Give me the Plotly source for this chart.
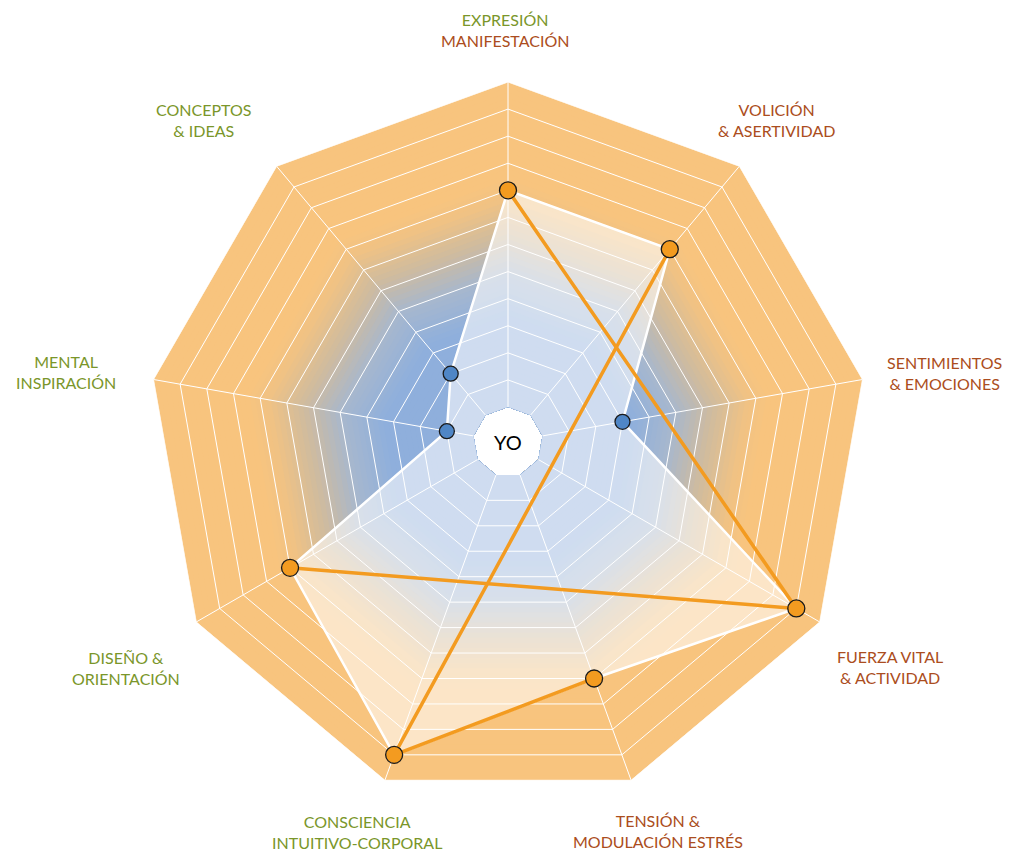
import plotly.graph_objects as go

# ---------------- data ----------------
categories = [
    "EXPRESIÓN MANIFESTACIÓN",
    "VOLICIÓN & ASERTIVIDAD",
    "SENTIMIENTOS & EMOCIONES",
    "FUERZA VITAL & ACTIVIDAD",
    "TENSIÓN & MODULACIÓN ESTRÉS",
    "CONSCIENCIA INTUITIVO-CORPORAL",
    "DISEÑO & ORIENTACIÓN",
    "MENTAL INSPIRACIÓN",
    "CONCEPTOS & IDEAS",
]
label_line1 = ["EXPRESIÓN", "VOLICIÓN", "SENTIMIENTOS", "FUERZA VITAL", "TENSIÓN &",
               "CONSCIENCIA", "DISEÑO &", "MENTAL", "CONCEPTOS"]
label_line2 = ["MANIFESTACIÓN", "& ASERTIVIDAD", "& EMOCIONES", "& ACTIVIDAD",
               "MODULACIÓN ESTRÉS", "INTUITIVO-CORPORAL", "ORIENTACIÓN", "INSPIRACIÓN", "& IDEAS"]
GREEN, BROWN = "#7a962a", "#ab4d20"
line1_colors = [GREEN, BROWN, BROWN, BROWN, BROWN, GREEN, GREEN, GREEN, GREEN]
line2_colors = [BROWN, BROWN, BROWN, BROWN, BROWN, GREEN, GREEN, GREEN, GREEN]

values = [8, 8, 3, 11, 8, 11, 8, 1, 2]
orange_points = ["EXPRESIÓN MANIFESTACIÓN", "VOLICIÓN & ASERTIVIDAD", "FUERZA VITAL & ACTIVIDAD",
                 "TENSIÓN & MODULACIÓN ESTRÉS", "CONSCIENCIA INTUITIVO-CORPORAL", "DISEÑO & ORIENTACIÓN"]
blue_points = ["SENTIMIENTOS & EMOCIONES", "MENTAL INSPIRACIÓN", "CONCEPTOS & IDEAS"]
path_a = ["EXPRESIÓN MANIFESTACIÓN", "FUERZA VITAL & ACTIVIDAD", "DISEÑO & ORIENTACIÓN"]
path_b = ["VOLICIÓN & ASERTIVIDAD", "CONSCIENCIA INTUITIVO-CORPORAL", "TENSIÓN & MODULACIÓN ESTRÉS"]
r_max = 12
rings = list(range(1, r_max + 1))

# label positions (pixels in a 1009x852 page)
label_px = [(505, 30), (776, 120), (944, 373), (890, 667), (658, 831),
            (357, 832), (126, 668), (66, 372), (203, 120)]

W, H = 1009, 852
val = dict(zip(categories, values))

# ---------------- background gradient ----------------
stops = [(0.0, (143, 175, 220)), (3.5, (143, 175, 220)), (5.0, (166, 183, 206)),
         (6.5, (208, 187, 158)), (7.8, (240, 194, 132)), (8.6, (248, 196, 126)), (12.0, (248, 196, 126))]


def grad_color(r):
    for (r0, c0), (r1, c1) in zip(stops[:-1], stops[1:]):
        if r0 <= r <= r1:
            t = (r - r0) / (r1 - r0) if r1 > r0 else 0
            c = [round(a + (b - a) * t) for a, b in zip(c0, c1)]
            return "rgb(%d,%d,%d)" % tuple(c)
    return "rgb(%d,%d,%d)" % stops[-1][1]


fig = go.Figure()
closed = categories + [categories[0]]
steps = [r_max - 0.2 * i for i in range(int(r_max / 0.2))]
for rr in steps:
    fig.add_trace(go.Scatterpolar(
        r=[rr] * len(closed), theta=closed, mode="lines",
        line=dict(width=0, color=grad_color(rr)), fill="toself",
        fillcolor=grad_color(rr), hoverinfo="skip", showlegend=False))

# ---------------- grid (rings + spokes) ----------------
for rr in rings:
    fig.add_trace(go.Scatterpolar(
        r=[rr] * len(closed), theta=closed, mode="lines",
        line=dict(width=1, color="white"), hoverinfo="skip", showlegend=False))
for c in categories:
    fig.add_trace(go.Scatterpolar(
        r=[0, r_max], theta=[c, c], mode="lines",
        line=dict(width=1, color="white"), hoverinfo="skip", showlegend=False))

# ---------------- data polygon ----------------
fig.add_trace(go.Scatterpolar(
    r=values + [values[0]], theta=closed, mode="lines",
    line=dict(width=2.5, color="white"), fill="toself",
    fillcolor="rgba(255,255,255,0.57)", showlegend=False))

for path in (path_a, path_b):
    fig.add_trace(go.Scatterpolar(
        r=[val[c] for c in path], theta=path, mode="lines",
        line=dict(width=3.5, color="#f39b20"), showlegend=False))

fig.add_trace(go.Scatterpolar(
    r=[val[c] for c in orange_points], theta=orange_points, mode="markers",
    marker=dict(size=17, color="#f39b20", line=dict(width=1.3, color="#1a1a1a")), showlegend=False))
fig.add_trace(go.Scatterpolar(
    r=[val[c] for c in blue_points], theta=blue_points, mode="markers",
    marker=dict(size=15, color="#4f86c6", line=dict(width=1.3, color="#1a1a1a")), showlegend=False))

# ---------------- labels ----------------
annotations = []
for i in range(len(categories)):
    px, py = label_px[i]
    txt = ("<span style='color:%s'>%s</span><br><span style='color:%s'>%s</span>"
           % (line1_colors[i], label_line1[i], line2_colors[i], label_line2[i]))
    annotations.append(dict(x=px / W, y=1 - py / H, xref="paper", yref="paper",
                            text=txt, showarrow=False, xanchor="center", yanchor="middle",
                            align="center", font=dict(size=16, family="Lato")))
annotations.append(dict(x=508 / W, y=1 - 442 / H, xref="paper", yref="paper", text="YO",
                        showarrow=False, xanchor="center", yanchor="middle",
                        font=dict(size=20, family="Lato", color="black")))

cx, cy, R = 508, 442, 360
fig.update_layout(
    width=W, height=H,
    margin=dict(l=0, r=0, t=0, b=0),
    paper_bgcolor="white", plot_bgcolor="white",
    showlegend=False,
    annotations=annotations,
    polar=dict(
        domain=dict(x=[(cx - R) / W, (cx + R) / W], y=[1 - (cy + R) / H, 1 - (cy - R) / H]),
        gridshape="linear",
        hole=35 / 360,
        bgcolor="rgba(0,0,0,0)",
        radialaxis=dict(range=[0, r_max], showgrid=False, showline=False,
                        showticklabels=False, ticks=""),
        angularaxis=dict(type="category", categoryarray=categories, rotation=90,
                         direction="clockwise", showgrid=False, showline=False,
                         showticklabels=False, ticks=""),
    ),
)

fig.write_html("out.html", config={"displayModeBar": False},
               post_script="document.body.style.margin='0';document.body.style.overflow='hidden';")
